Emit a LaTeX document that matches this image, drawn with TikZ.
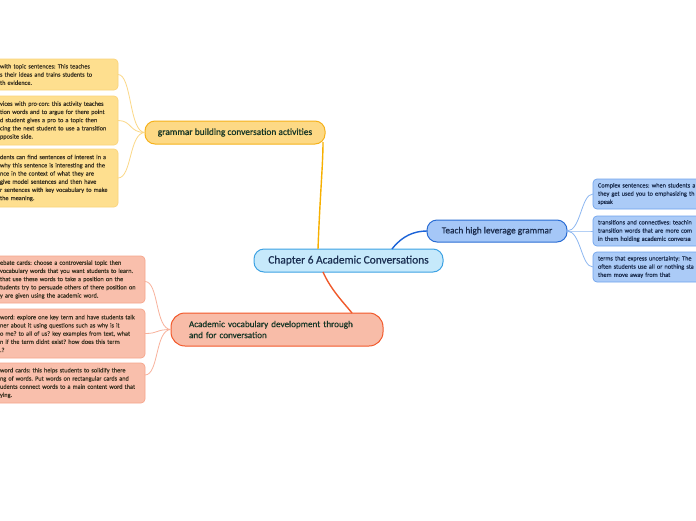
\documentclass[tikz,border=0pt]{standalone}
\usepackage{fontspec}
\setmainfont{Carlito}
\newfontfamily\headfont[FakeBold=0.6]{Carlito}
\newfontfamily\leaffont[FakeBold=0.3]{Carlito}
\frenchspacing
\definecolor{cenfill}{HTML}{C6E9FB}
\definecolor{cenline}{HTML}{3DA2E3}
\definecolor{centext}{HTML}{1B2F52}
\definecolor{yfill}{HTML}{FDD985}
\definecolor{yline}{HTML}{F6B21B}
\definecolor{yconn}{HTML}{F7B000}
\definecolor{ylfill}{HTML}{FEDF8F}
\definecolor{ylline}{HTML}{FBD47A}
\definecolor{ylconn}{HTML}{FBD887}
\definecolor{bfill}{HTML}{A5C7F7}
\definecolor{bline}{HTML}{2A6DD4}
\definecolor{bconn}{HTML}{1B63D8}
\definecolor{blfill}{HTML}{ABCBF7}
\definecolor{blline}{HTML}{6FA3EC}
\definecolor{blconn}{HTML}{8DB7F1}
\definecolor{sfill}{HTML}{F8BCA8}
\definecolor{sline}{HTML}{F2582A}
\definecolor{sconn}{HTML}{F0592A}
\definecolor{slfill}{HTML}{F9BFAC}
\definecolor{slline}{HTML}{F6A68C}
\definecolor{slconn}{HTML}{F8B29C}
\definecolor{gtext}{HTML}{173626}
\definecolor{ltext}{HTML}{3B3322}
\definecolor{btext}{HTML}{1C2D4E}
\begin{document}
\begin{tikzpicture}[x=1pt,y=-1pt,
  every node/.style={inner sep=0pt, outer sep=0pt},
  mainbox/.style={draw, line width=1pt, rounded corners=10pt, align=center},
  leafbox/.style={draw, line width=0.7pt, rounded corners=4pt, align=left,
    font=\leaffont\fontsize{6.3}{8.2}\selectfont, anchor=north west, inner xsep=6pt, inner ysep=0pt},
  yleaf/.style={leafbox, fill=ylfill, draw=ylline, text=ltext, text width=112pt},
  sleaf/.style={leafbox, fill=slfill, draw=slline, text=ltext, text width=139pt},
  bleaf/.style={leafbox, fill=blfill, draw=blline, text=btext, inner xsep=5pt, text width=120pt},
  mainconn/.style={line width=1.4pt},
  leafconn/.style={line width=0.8pt}]
\useasboundingbox[fill=white] (0,0) rectangle (696,520);

% central
\node[mainbox, fill=cenfill, draw=cenline, text=centext, minimum width=189pt, minimum height=23pt,
  font=\headfont\fontsize{11.4}{13}\selectfont] (c) at (348.5,260.5) {Chapter 6 Academic Conversations};

% main topics
\node[mainbox, fill=yfill, draw=yline, text=gtext, minimum width=180pt, minimum height=23pt,
  font=\headfont\fontsize{9.4}{11}\selectfont] (ym) at (235,132.5) {grammar building conversation activities};
\node[mainbox, fill=bfill, draw=bline, text=btext, minimum width=140pt, minimum height=22pt,
  font=\headfont\fontsize{9.3}{11}\selectfont] (bm) at (497,231) {Teach high leverage grammar};
\node[mainbox, fill=sfill, draw=sline, text=gtext, minimum height=33pt, align=left, inner xsep=18pt,
  text width=176pt, rounded corners=14pt,
  font=\headfont\fontsize{9.1}{11}\selectfont] (sm) at (277,329.5) {Academic vocabulary development through\\and for conversation};

% main connectors
\draw[mainconn, yconn] ([xshift=-30.5pt]c.north) .. controls (320,195) and (323,165) .. ([xshift=-2pt,yshift=2pt]ym.south east);
\draw[mainconn, bconn] ([xshift=43.5pt]c.north) .. controls (402,236) and (414,231) .. (bm.west);
\draw[mainconn, sconn] ([xshift=-25.5pt]c.south) .. controls (331,290) and (344,303) .. ([xshift=75pt]sm.north);

% yellow leaves
\node[yleaf, minimum height=31pt] (y1) at (-6,59) {with topic sentences: This teaches\\s their ideas and trains students to\\th evidence.};
\node[yleaf, minimum height=49pt] (y2) at (-6,96) {vices with pro-con: this activity teaches\\tion words and to argue for there point\\d student gives a pro to a topic then\\cing the next student to use a transition\\pposite side.};
\node[yleaf, minimum height=58pt] (y3) at (-6,149) {dents can find sentences of interest in a\\why this sentence is interesting and the\\nce in the context of what they are\\give model sentences and then have\\r sentences with key vocabulary to make\\the meaning.};
\foreach \n in {y1,y2,y3}
  \draw[leafconn, ylconn] (ym.west) .. controls +(-16,0) and +(14,0) .. (\n.east);

% salmon leaves
\node[sleaf, minimum height=47pt] (s1) at (-6,256) {ebate cards: choose a controversial topic then\\vocabulary words that you want students to learn.\\that use these words to take a position on the\\tudents try to persuade others of there position on\\y are given using the academic word.};
\node[sleaf, minimum height=49pt] (s2) at (-6,309) {word: explore one key term and have students talk\\ner about it using questions such as why is it\\o me? to all of us? key examples from text, what\\n if the term didnt exist? how does this term\\.?};
\node[sleaf, minimum height=40pt] (s3) at (-6,363) {word cards: this helps students to solidify there\\ng of words. Put words on rectangular cards and\\udents connect words to a main content word that\\ying.};
\draw[leafconn, slconn] (sm.west) .. controls +(-16,0) and +(14,0) .. ([yshift=-2pt]s1.east);
\draw[leafconn, slconn] (sm.west) .. controls +(-16,0) and +(14,0) .. (s2.east);
\draw[leafconn, slconn] (sm.west) .. controls +(-16,0) and +(14,0) .. ([yshift=8pt]s3.east);

% blue leaves
\node[bleaf, minimum height=30pt] (b1) at (593,179) {Complex sentences: when students a\\they get used you to emphasizing th\\speak};
\node[bleaf, minimum height=30pt] (b2) at (593,216) {transitions and connectives: teachin\\transition words that are more com\\in them holding academic conversa};
\node[bleaf, minimum height=30pt] (b3) at (593,252) {terms that express uncertainty: The\\often students use all or nothing sta\\them move away from that};
\foreach \n in {b1,b2,b3}
  \draw[leafconn, blconn] (bm.east) .. controls +(14,0) and +(-12,0) .. (\n.west);
\end{tikzpicture}
\end{document}
